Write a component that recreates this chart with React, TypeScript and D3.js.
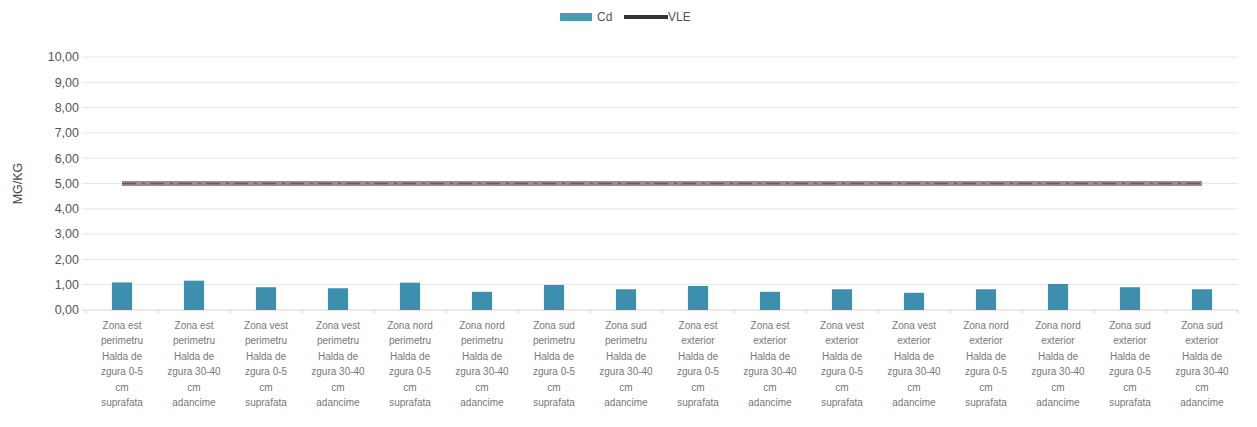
import React, { useEffect, useRef } from "react";
import * as d3 from "d3";

const categories: string[][] = [
  ["Zona est", "perimetru", "Halda de", "zgura 0-5", "cm", "suprafata"],
  ["Zona est", "perimetru", "Halda de", "zgura 30-40", "cm", "adancime"],
  ["Zona vest", "perimetru", "Halda de", "zgura 0-5", "cm", "suprafata"],
  ["Zona vest", "perimetru", "Halda de", "zgura 30-40", "cm", "adancime"],
  ["Zona nord", "perimetru", "Halda de", "zgura 0-5", "cm", "suprafata"],
  ["Zona nord", "perimetru", "Halda de", "zgura 30-40", "cm", "adancime"],
  ["Zona sud", "perimetru", "Halda de", "zgura 0-5", "cm", "suprafata"],
  ["Zona sud", "perimetru", "Halda de", "zgura 30-40", "cm", "adancime"],
  ["Zona est", "exterior", "Halda de", "zgura 0-5", "cm", "suprafata"],
  ["Zona est", "exterior", "Halda de", "zgura 30-40", "cm", "adancime"],
  ["Zona vest", "exterior", "Halda de", "zgura 0-5", "cm", "suprafata"],
  ["Zona vest", "exterior", "Halda de", "zgura 30-40", "cm", "adancime"],
  ["Zona nord", "exterior", "Halda de", "zgura 0-5", "cm", "suprafata"],
  ["Zona nord", "exterior", "Halda de", "zgura 30-40", "cm", "adancime"],
  ["Zona sud", "exterior", "Halda de", "zgura 0-5", "cm", "suprafata"],
  ["Zona sud", "exterior", "Halda de", "zgura 30-40", "cm", "adancime"],
];
const cdValues: number[] = [1.09, 1.16, 0.9, 0.86, 1.08, 0.72, 0.99, 0.82, 0.95, 0.72, 0.82, 0.68, 0.82, 1.03, 0.9, 0.82];
const vleValues: number[] = [5, 5, 5, 5, 5, 5, 5, 5, 5, 5, 5, 5, 5, 5, 5, 5];
const yTicks: number[] = [0, 1, 2, 3, 4, 5, 6, 7, 8, 9, 10];
const seriesNames = ["Cd", "VLE"];

const W = 1257, H = 427;
const M = { left: 86, right: 19, top: 57, bottom: 117 };

export default function App() {
  const ref = useRef<SVGSVGElement>(null);
  useEffect(() => {
    const svg = d3.select(ref.current);
    svg.selectAll("*").remove();
    const idx = categories.map((_, i) => String(i));
    const x = d3.scaleBand().domain(idx).range([M.left, W - M.right])
      .paddingInner(0.72).paddingOuter(0.36);
    const y = d3.scaleLinear().domain([0, 10]).range([H - M.bottom, M.top]);
    const font = "'Liberation Sans', Arial, sans-serif";

    // gridlines
    svg.append("g").selectAll("line").data(yTicks.slice(1)).join("line")
      .attr("x1", M.left - 4).attr("x2", W - M.right)
      .attr("y1", d => y(d)).attr("y2", d => y(d))
      .attr("stroke", "#e6e6e6").attr("stroke-width", 1);
    // baseline
    svg.append("line").attr("x1", M.left - 4).attr("x2", W - M.right)
      .attr("y1", y(0)).attr("y2", y(0)).attr("stroke", "#d4d4d4");
    // ticks between categories
    svg.append("g").selectAll("line").data(d3.range(categories.length + 1)).join("line")
      .attr("x1", i => M.left + i * x.step()).attr("x2", i => M.left + i * x.step())
      .attr("y1", y(0)).attr("y2", y(0) + 4).attr("stroke", "#d4d4d4");

    // y labels
    svg.append("g").selectAll("text").data(yTicks).join("text")
      .attr("x", M.left - 7).attr("y", d => y(d)).attr("dy", "0.35em")
      .attr("text-anchor", "end").attr("font-family", font).attr("font-size", 12.5)
      .attr("fill", "#555").text(d => d3.format(".2f")(d).replace(".", ","));
    svg.append("text").attr("transform", `translate(22,${(y(0) + y(10)) / 2}) rotate(-90)`)
      .attr("text-anchor", "middle").attr("font-family", font).attr("font-size", 12.5)
      .attr("fill", "#444").text("MG/KG");

    // bars
    svg.append("g").selectAll("rect").data(cdValues).join("rect")
      .attr("x", (_, i) => x(String(i))!).attr("width", x.bandwidth())
      .attr("y", d => y(d)).attr("height", d => y(0) - y(d))
      .attr("fill", "#3d8fae");

    // VLE line
    const line = d3.line<number>()
      .x((_, i) => x(String(i))! + x.bandwidth() / 2)
      .y(d => y(d));
    svg.append("path").datum(vleValues).attr("d", line)
      .attr("fill", "none").attr("stroke", "#a08a8e").attr("stroke-width", 5);
    svg.append("path").datum(vleValues).attr("d", line)
      .attr("fill", "none").attr("stroke", "#6a5a5e").attr("stroke-width", 1.5)
      .attr("stroke-dasharray", "14 6 3 5");

    // x labels
    const xl = svg.append("g").selectAll("text").data(categories).join("text")
      .attr("x", (_, i) => x(String(i))! + x.bandwidth() / 2)
      .attr("y", y(0) + 19).attr("text-anchor", "middle")
      .attr("font-family", font).attr("font-size", 10).attr("fill", "#777");
    xl.selectAll("tspan").data(d => d).join("tspan")
      .attr("x", function () { return (this.parentNode as SVGTextElement).getAttribute("x"); })
      .attr("dy", (_, j) => (j === 0 ? 0 : 15.4)).text(d => d);

    // legend
    const lg = svg.append("g").attr("font-family", font).attr("font-size", 12).attr("fill", "#555");
    lg.append("rect").attr("x", 560).attr("y", 13).attr("width", 32).attr("height", 8).attr("fill", "#4a9ab0");
    lg.append("text").attr("x", 597).attr("y", 21).text(seriesNames[0]);
    lg.append("line").attr("x1", 624).attr("x2", 668).attr("y1", 17).attr("y2", 17)
      .attr("stroke", "#333").attr("stroke-width", 4);
    lg.append("text").attr("x", 668).attr("y", 21).text(seriesNames[1]);
  }, []);
  return <svg ref={ref} width={W} height={H} style={{ display: "block", margin: "-8px" }} />;
}
